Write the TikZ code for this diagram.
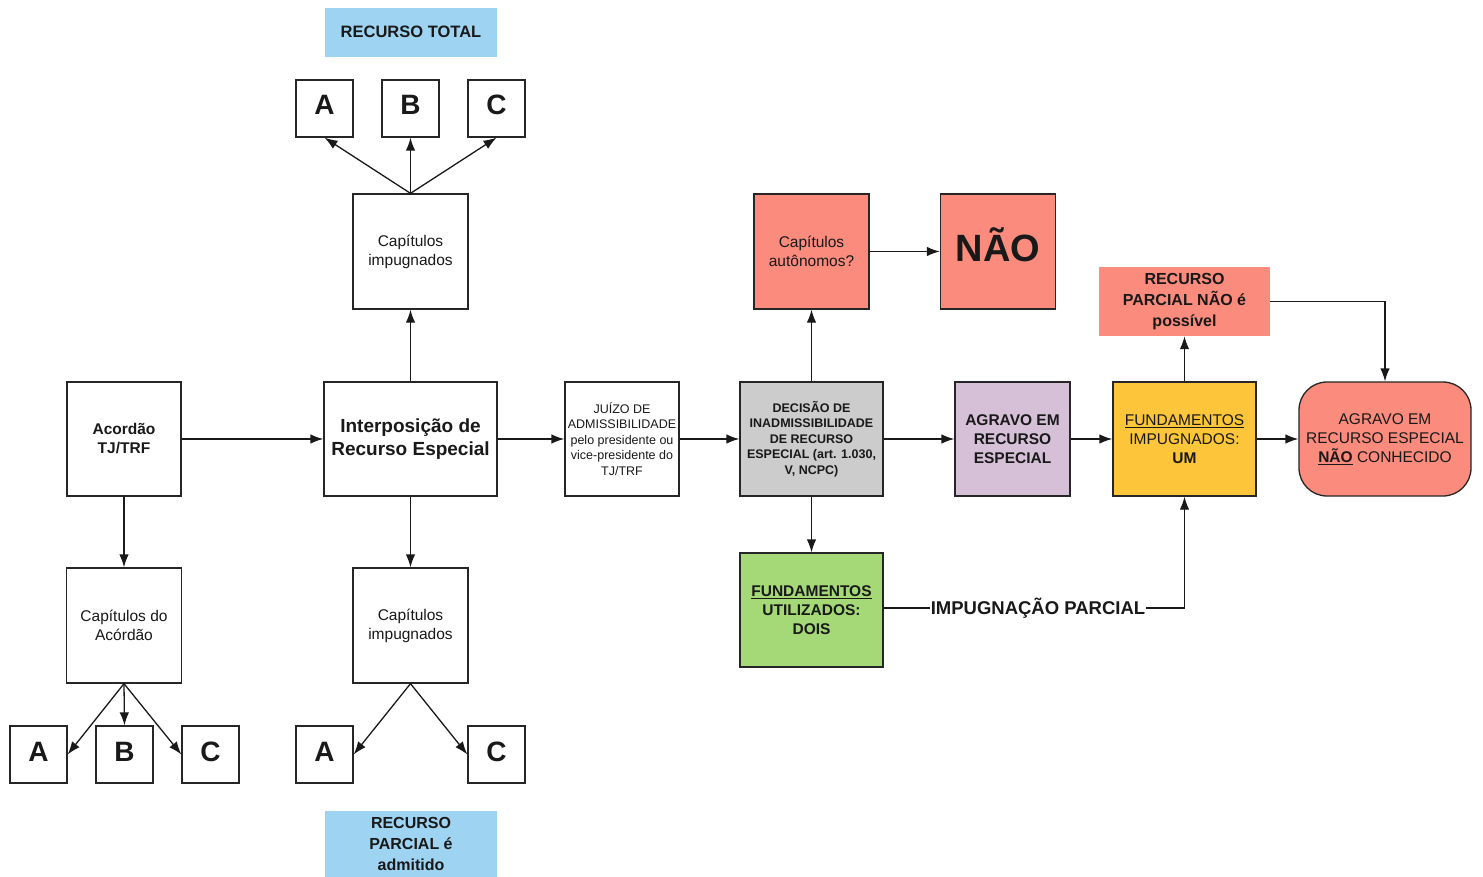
\documentclass[tikz,border=0pt]{standalone}
\usepackage{fontspec}
\setmainfont{Liberation Sans}
\usetikzlibrary{arrows.meta}
\definecolor{cblue}{HTML}{9ED3F2}
\definecolor{csalmon}{HTML}{FA8B7D}
\definecolor{cgray}{HTML}{CCCCCC}
\definecolor{cpurple}{HTML}{D6C0D8}
\definecolor{cgold}{HTML}{FCC53A}
\definecolor{cgreen}{HTML}{A5D977}
\newcommand{\fs}[2]{\fontsize{#1}{#2}\selectfont}
\newcommand{\bl}[2]{\raisebox{#1}[0pt][0pt]{#2}}
\tikzset{
  box/.style={draw=black!85, line width=1.3pt, inner sep=0pt, align=center, text=black!90},
  sq/.style={box, minimum width=115pt, minimum height=115pt},
  letter/.style={box, minimum width=57pt, minimum height=57pt, font=\fs{28}{30}\bfseries},
  label/.style={inner sep=0pt, align=center, text=black!90},
  arr/.style={line width=1.3pt, draw=black!90, -{Latex[length=13pt,width=9.5pt]}},
  ln/.style={line width=1.3pt, draw=black!90},
}
\begin{document}
\begin{tikzpicture}[x=1pt,y=-1pt]
\useasboundingbox (0,0) rectangle (1483,877);
\fill[white] (0,0) rectangle (1483,877);
% blue labels
\node[label, fill=cblue, minimum width=172pt, minimum height=49pt, font=\fs{16.5}{20}\bfseries] (rt) at (411,32.5) {\raisebox{1.5pt}{RECURSO TOTAL}};
\node[label, fill=cblue, minimum width=172pt, minimum height=66pt, font=\fs{16}{21}\bfseries] (rpa) at (411,844) {RECURSO\\PARCIAL é\\admitido};
% top letters
\node[letter] (tA) at (324.5,108.5) {\bl{-6.5pt}{A}};
\node[letter] (tB) at (410.5,108.5) {\bl{-6.5pt}{B}};
\node[letter] (tC) at (496.5,108.5) {\bl{-6.5pt}{C}};
\node[sq, font=\fs{15.5}{19}] (capT) at (410.5,251.5) {Capítulos\\impugnados};
% main row
\node[box, minimum width=114pt, minimum height=114pt, font=\fs{15.5}{19}\bfseries] (acord) at (124,439) {Acordão\\TJ/TRF};
\node[box, minimum width=173pt, minimum height=114pt, font=\fs{19}{23}\bfseries] (interp) at (410.5,439) {Interposição de\\Recurso Especial};
\node[box, minimum width=114pt, minimum height=114pt, font=\fs{12.5}{15.5}] (juizo) at (622,439) {JUÍZO DE\\ADMISSIBILIDADE\\pelo presidente ou\\vice-presidente do\\TJ/TRF};
\node[box, fill=cgray, minimum width=143pt, minimum height=114pt, font=\fs{12.5}{15.5}\bfseries] (decis) at (811.5,439) {DECISÃO DE\\INADMISSIBILIDADE\\DE RECURSO\\ESPECIAL (art. 1.030,\\V, NCPC)};
\node[sq, fill=csalmon, font=\fs{15.5}{19}] (auton) at (811.5,251.5) {Capítulos\\autônomos?};
\node[sq, fill=csalmon, font=\fs{38}{40}\bfseries] (nao) at (998,251.5) {\bl{-9.5pt}{NÃO}};
\node[label, fill=csalmon, minimum width=171pt, minimum height=69pt, font=\fs{16}{21}\bfseries] (rpn) at (1184.5,301.5) {RECURSO\\PARCIAL NÃO é\\possível};
\node[box, fill=cpurple, minimum width=115pt, minimum height=114pt, font=\fs{15.5}{19}\bfseries] (agr) at (1012.5,439) {AGRAVO EM\\RECURSO\\ESPECIAL};
\node[box, fill=cgold, minimum width=143pt, minimum height=114pt, font=\fs{15.5}{19}] (fimp) at (1184.5,439) {\underline{FUNDAMENTOS}\\IMPUGNADOS:\\\textbf{UM}};
\node[box, fill=csalmon, rounded corners=28pt, minimum width=172pt, minimum height=114pt, font=\fs{15.5}{19}] (agrnc) at (1385,439) {AGRAVO EM\\RECURSO ESPECIAL\\\underline{\textbf{NÃO}} CONHECIDO};
\node[box, fill=cgreen, minimum width=143pt, minimum height=114pt, font=\fs{15.5}{19}\bfseries] (futil) at (811.5,610) {\underline{FUNDAMENTOS}\\UTILIZADOS:\\DOIS};
\node[label, font=\fs{18.5}{20}\bfseries, inner xsep=0.5pt] (imp) at (1038,608) {IMPUGNAÇÃO PARCIAL};
% lower left
\node[sq, font=\fs{15.5}{19}] (capA) at (124,625.5) {Capítulos do\\Acórdão};
\node[sq, font=\fs{15.5}{19}] (capB) at (410.5,625.5) {Capítulos\\impugnados};
\node[letter] (bA) at (38.5,754.5) {\bl{-7pt}{A}};
\node[letter] (bB) at (124.5,754.5) {\bl{-7pt}{B}};
\node[letter] (bC) at (210.5,754.5) {\bl{-7pt}{C}};
\node[letter] (b2A) at (324.5,754.5) {\bl{-7pt}{A}};
\node[letter] (b2C) at (496.5,754.5) {\bl{-7pt}{C}};
% connectors
\draw[arr] (capT.north) -- (tA.south);
\draw[arr] (capT.north) -- (tB.south);
\draw[arr] (capT.north) -- (tC.south);
\draw[arr] (interp.north) -- (capT.south);
\draw[arr] (acord.east) -- (interp.west);
\draw[arr] (acord.south) -- (capA.north);
\draw[arr] (capA.south) -- (bA.east);
\draw[arr] (capA.south) -- (bB.north);
\draw[arr] (capA.south) -- (bC.west);
\draw[arr] (interp.south) -- (capB.north);
\draw[arr] (capB.south) -- (b2A.east);
\draw[arr] (capB.south) -- (b2C.west);
\draw[arr] (interp.east) -- (juizo.west);
\draw[arr] (juizo.east) -- (decis.west);
\draw[arr] (decis.north) -- (auton.south);
\draw[arr] (auton.east) -- (nao.west);
\draw[arr] (decis.east) -- (agr.west);
\draw[arr] (agr.east) -- (fimp.west);
\draw[arr] (fimp.east) -- (agrnc.west);
\draw[arr] (fimp.north) -- (rpn.south);
\draw[arr] (rpn.east) -| (agrnc.north);
\draw[arr] (decis.south) -- (futil.north);
\draw[ln] (imp.west -| futil.east) -- (imp.west);
\draw[arr] (imp.east) -| (fimp.south);
\end{tikzpicture}
\end{document}
